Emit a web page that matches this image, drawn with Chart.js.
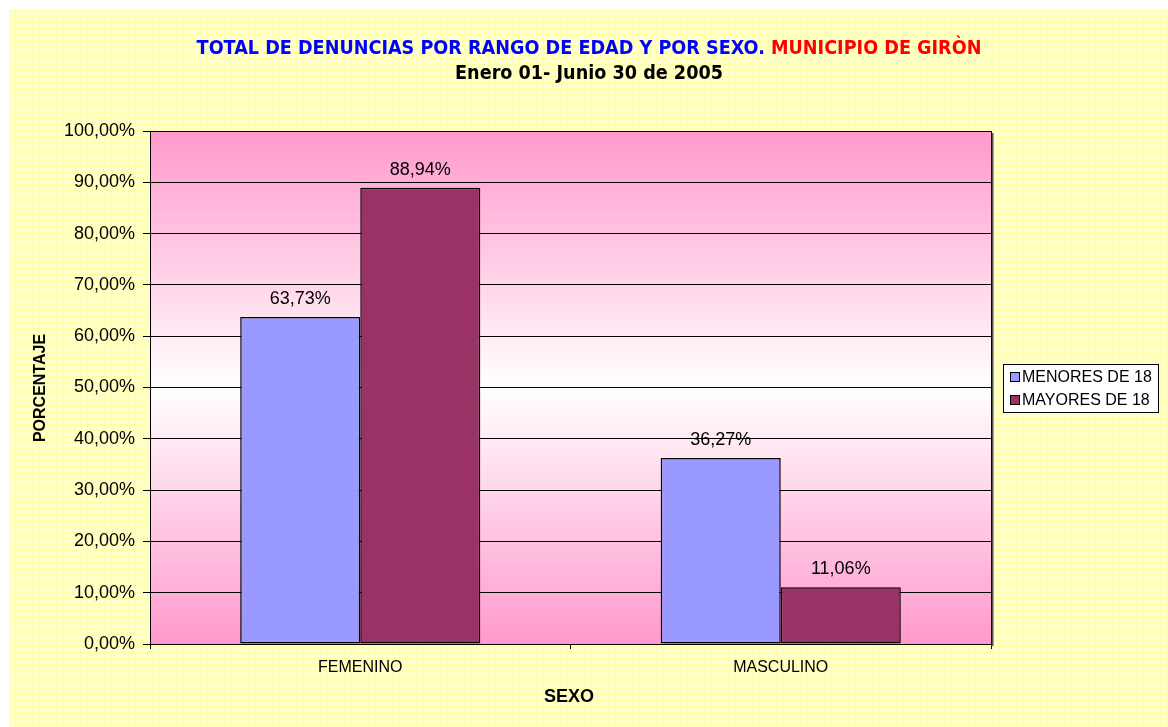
<!DOCTYPE html>
<html>
<head>
<meta charset="utf-8">
<script src="https://cdn.jsdelivr.net/npm/chart.js@4"></script>
<style>
  body { margin: 0; background: #fff; }
  #bg {
    position: absolute; left: 9px; top: 10px; width: 1159px; height: 717px;
    background-color: #FFFFCC;
    background-image: linear-gradient(#FFFFA6 1px, transparent 1px), linear-gradient(90deg, #FFFFA6 1px, transparent 1px);
    background-size: 6px 6px;
  }
  #chart { position: absolute; left: 0; top: 0; }
</style>
</head>
<body>
<div id="bg"></div>
<canvas id="chart" width="1168" height="727"></canvas>
<script>
// Data
const categories = ['FEMENINO', 'MASCULINO'];
const menores = [63.73, 36.27];
const mayores = [88.94, 11.06];
const seriesNames = ['MENORES DE 18', 'MAYORES DE 18'];
const colors = ['#9999FF', '#993366'];

const fmt = v => v.toFixed(2).replace('.', ',') + '%';
const FONT = '"Liberation Sans", Arial, sans-serif';

// plot background gradient + border
const plotBg = {
  id: 'plotBg',
  beforeDraw(chart) {
    const { ctx, chartArea: a } = chart;
    const g = ctx.createLinearGradient(0, a.top, 0, a.bottom);
    g.addColorStop(0, '#FF99CC');
    g.addColorStop(0.5, '#FFFFFF');
    g.addColorStop(1, '#FF99CC');
    ctx.save();
    ctx.fillStyle = g;
    ctx.fillRect(a.left, a.top, a.right - a.left, a.bottom - a.top);
    ctx.restore();
  },
  afterDatasetsDraw(chart) {
    const { ctx, chartArea: a } = chart;
    ctx.save();
    ctx.strokeStyle = '#555';
    ctx.lineWidth = 2;
    ctx.beginPath();
    ctx.moveTo(a.right + 1.5, a.top + 2);
    ctx.lineTo(a.right + 1.5, a.bottom + 2);
    ctx.stroke();
    ctx.strokeStyle = '#000';
    ctx.lineWidth = 1;
    ctx.strokeRect(a.left + 0.5, a.top + 0.5, a.right - a.left, a.bottom - a.top);
    ctx.restore();
  }
};

// value labels, titles, legend
const extras = {
  id: 'extras',
  afterDraw(chart) {
    const { ctx } = chart;
    ctx.save();
    // value labels
    ctx.font = '18px ' + FONT;
    ctx.fillStyle = '#000';
    ctx.textAlign = 'center';
    ctx.textBaseline = 'bottom';
    chart.data.datasets.forEach((ds, i) => {
      chart.getDatasetMeta(i).data.forEach((bar, j) => {
        ctx.fillText(fmt(ds.data[j]), bar.x, bar.y - 9);
      });
    });

    // main title, two colours
    const t1 = 'TOTAL DE DENUNCIAS POR RANGO DE EDAD Y POR SEXO. ';
    const t2 = 'MUNICIPIO DE GIRÒN';
    const fam = '"DejaVu Sans Condensed", "DejaVu Sans", sans-serif';
    ctx.font = 'bold 16px ' + fam;
    let w = ctx.measureText(t1 + t2).width;
    const size = 16 * 784 / w;
    ctx.font = 'bold ' + size.toFixed(1) + 'px ' + fam;
    const w1 = ctx.measureText(t1).width;
    w = ctx.measureText(t1 + t2).width;
    const x0 = 589 - w / 2;
    ctx.textAlign = 'left';
    ctx.textBaseline = 'alphabetic';
    ctx.fillStyle = '#0000FF';
    ctx.fillText(t1, x0, 54);
    ctx.fillStyle = '#FF0000';
    ctx.fillText(t2, x0 + w1, 54);
    ctx.fillStyle = '#000';
    ctx.textAlign = 'center';
    ctx.fillText('Enero 01- Junio 30 de 2005', 589, 79);

    // axis titles
    ctx.font = 'bold 18px ' + FONT;
    ctx.textBaseline = 'middle';
    ctx.fillText('SEXO', 569, 697);
    ctx.save();
    ctx.translate(41, 388);
    ctx.rotate(-Math.PI / 2);
    ctx.font = 'bold 16px ' + FONT;
    ctx.fillText('PORCENTAJE', 0, 0);
    ctx.restore();

    // legend
    ctx.fillStyle = '#fff';
    ctx.fillRect(1003, 364, 155, 48);
    ctx.strokeStyle = '#000';
    ctx.lineWidth = 1;
    ctx.strokeRect(1003.5, 364.5, 155, 48);
    ctx.font = '16px ' + FONT;
    ctx.textAlign = 'left';
    chart.data.datasets.forEach((ds, i) => {
      const cy = 377 + i * 23;
      ctx.fillStyle = ds.backgroundColor;
      ctx.fillRect(1010, cy - 5, 9, 9);
      ctx.strokeRect(1010.5, cy - 4.5, 9, 9);
      ctx.fillStyle = '#000';
      ctx.fillText(ds.label, 1022, cy + 1);
    });
    ctx.restore();
  }
};

new Chart(document.getElementById('chart'), {
  type: 'bar',
  data: {
    labels: categories,
    datasets: [
      { label: seriesNames[0], data: menores, backgroundColor: colors[0], borderColor: '#000', borderWidth: 1.5, borderSkipped: false },
      { label: seriesNames[1], data: mayores, backgroundColor: colors[1], borderColor: '#000', borderWidth: 1.5, borderSkipped: false }
    ]
  },
  options: {
    responsive: false,
    animation: false,
    layout: { padding: { left: 0, top: 131, right: 177, bottom: 0 } },
    plugins: { legend: { display: false }, tooltip: { enabled: false } },
    datasets: { bar: { categoryPercentage: 0.571, barPercentage: 1.0 } },
    scales: {
      x: {
        afterFit: s => { s.height = 83; },
        grid: { offset: true, drawOnChartArea: false, drawTicks: true, tickLength: 5, color: '#000' },
        border: { color: '#000' },
        ticks: { color: '#000', padding: 9, font: { family: FONT, size: 16 } }
      },
      y: {
        min: 0, max: 100,
        afterFit: s => { s.width = 150; },
        grid: { color: '#000', tickLength: 7 },
        border: { color: '#000' },
        ticks: {
          stepSize: 10, color: '#000', padding: 8,
          font: { family: FONT, size: 18 },
          callback: v => fmt(v)
        }
      }
    }
  },
  plugins: [plotBg, extras]
});
</script>
</body>
</html>
